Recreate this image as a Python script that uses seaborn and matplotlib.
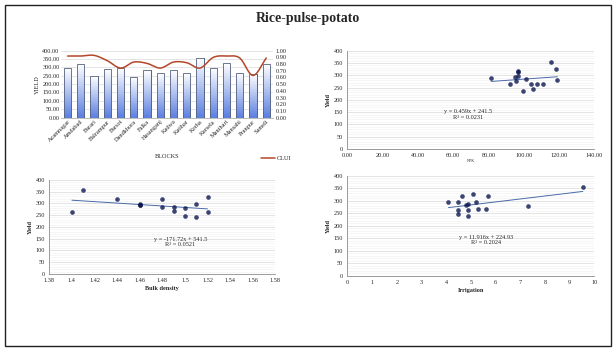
import numpy as np
import pandas as pd
import matplotlib
matplotlib.use("Agg")
import matplotlib.pyplot as plt
from matplotlib.patches import Rectangle
import seaborn as sns

# dados
blocks = ["Azamnagar", "Amdabad", "Barari", "Balrampur", "Barsoi", "Dandkhora",
          "Falka", "Hasanganj", "Kadwa", "Katihar", "Korha", "Kursela",
          "Manihari", "Mansahi", "Pranpur", "Sameli"]
block_yield = [297, 320, 250, 290, 295, 242, 285, 267, 285, 265, 355, 297,
               325, 267, 262, 320]
clui = [0.92, 0.92, 0.93, 0.85, 0.74, 0.83, 0.81, 0.74, 0.83, 0.82, 0.74,
        0.90, 0.92, 0.89, 0.63, 0.89]

x_tr = [81.5, 92.2, 94.7, 95.3, 96.4, 96.4, 96.6, 99.6, 101.0, 104.3, 104.9,
        107.7, 110.6, 115.5, 118.3, 119.0]
y_tr = [290, 264, 294, 277, 319, 313, 296, 236, 283, 264, 244, 263, 263,
        355, 324, 279]

bulk = [1.40, 1.41, 1.44, 1.46, 1.46, 1.46, 1.48, 1.48, 1.49, 1.49, 1.50,
        1.50, 1.51, 1.51, 1.52, 1.52]
y_bl = [264, 356, 319, 297, 293, 295, 319, 285, 284, 268, 281, 247, 298,
        240, 326, 265]

irrig = [4.09, 4.49, 4.49, 4.49, 4.62, 4.80, 4.89, 4.89, 4.89, 5.10, 5.20,
         5.30, 5.60, 5.71, 7.30, 9.53]
y_ir = [295, 297, 264, 249, 320, 285, 286, 264, 240, 327, 296, 267, 267,
        320, 280, 357]

sns.set_style("white")
plt.rcParams['font.family'] = ['Liberation Serif', 'DejaVu Serif']
plt.rcParams['font.size'] = 4.5

fig = plt.figure(figsize=(6.16, 3.52), dpi=100)
fig.patches.append(Rectangle((0.008, 0.017), 0.984, 0.968, transform=fig.transFigure,
                             fill=False, edgecolor='#222222', linewidth=1.0))
fig.text(0.5, 0.947, "Rice-pulse-potato", ha='center', va='center',
         fontsize=10, fontweight='bold')

grid_major = '#d9d9d9'
grid_minor = '#efefef'
dot = '#0b1650'
trend = '#4a6aa8'

# ---- grafico de barras + CLUI ----
ax1 = fig.add_axes([0.099, 0.666, 0.344, 0.190])
df_b = pd.DataFrame({'block': blocks, 'yield': block_yield, 'clui': clui})
sns.barplot(data=df_b, x='block', y='yield', ax=ax1, width=0.55, color='white',
            edgecolor='#5a6a8a', linewidth=0.6, zorder=2)
grad = np.linspace(0, 1, 100).reshape(-1, 1)
cmap = matplotlib.colors.LinearSegmentedColormap.from_list('g', ['#5b7fe0', '#ffffff'])
for p in ax1.patches:
    x0, y0 = p.get_x(), p.get_y()
    im = ax1.imshow(grad, extent=[x0, x0 + p.get_width(), y0, y0 + p.get_height()],
                    origin='lower', cmap=cmap, aspect='auto', zorder=2)
    im.set_clip_path(p)
    # contorno por cima do degradê
    ax1.add_patch(Rectangle((x0, y0), p.get_width(), p.get_height(), fill=False,
                            edgecolor='#55627f', linewidth=0.6, zorder=3))
ax1.set_xlim(-0.5, 15.5)
ax1.set_ylim(0, 400)
ax1.set_yticks(np.arange(0, 401, 50))
ax1.set_yticklabels([f"{v:.2f}" for v in np.arange(0, 401, 50)])
ax1.yaxis.grid(True, color=grid_major, linewidth=0.5, zorder=0)
ax1.set_axisbelow(True)
for s in ax1.spines.values():
    s.set_visible(False)
ax1.spines['bottom'].set_visible(True)
ax1.spines['bottom'].set_color('#bfbfbf')
ax1.tick_params(axis='both', length=0, pad=1)
ax1.set_xticks(range(len(blocks)))
ax1.set_xticklabels(blocks, rotation=45, ha='right', rotation_mode='anchor')
ax1.set_xlabel("BLOCKS", labelpad=8)
ax1.set_ylabel("YIELD", labelpad=2)

ax1b = ax1.twinx()
# linha suavizada (estilo Excel) a partir dos valores
xi = np.arange(len(clui))
yv = np.array(clui)
tang = np.gradient(yv)
xs, ys = [], []
for i in range(len(yv) - 1):
    t = np.linspace(0, 1, 20)
    h00 = 2*t**3 - 3*t**2 + 1
    h10 = t**3 - 2*t**2 + t
    h01 = -2*t**3 + 3*t**2
    h11 = t**3 - t**2
    xs.extend(xi[i] + t)
    ys.extend(h00*yv[i] + h10*tang[i] + h01*yv[i+1] + h11*tang[i+1])
sns.lineplot(x=xs, y=ys, ax=ax1b, color='#b5462a', linewidth=1.1,
             sort=False, legend=False)
ax1b.set_ylim(0, 1.0)
ax1b.set_yticks(np.arange(0, 1.01, 0.1))
ax1b.set_yticklabels([f"{v:.2f}" for v in np.arange(0, 1.01, 0.1)])
ax1b.tick_params(axis='y', length=0, pad=2)
for s in ax1b.spines.values():
    s.set_visible(False)
fig.legend(ax1b.get_lines()[:1], ['CLUI'], loc='center left',
           bbox_to_anchor=(0.415, 0.55), frameon=False,
           handlelength=2.2, handletextpad=0.2, fontsize=4.5)


def style_scatter(ax, ymax=400):
    ax.set_ylim(0, ymax)
    ax.set_yticks(np.arange(0, ymax + 1, 50))
    ax.set_yticks(np.arange(0, ymax + 1, 10), minor=True)
    ax.yaxis.grid(True, which='minor', color=grid_minor, linewidth=0.4)
    ax.yaxis.grid(True, which='major', color=grid_major, linewidth=0.5)
    ax.set_axisbelow(True)
    for s in ['top', 'right']:
        ax.spines[s].set_visible(False)
    for s in ['left', 'bottom']:
        ax.spines[s].set_color('#8c8c8c')
        ax.spines[s].set_linewidth(0.6)
    ax.tick_params(axis='both', which='major', length=2, width=0.5, pad=1,
                   color='#8c8c8c')
    ax.tick_params(axis='y', which='minor', length=0)
    ax.set_ylabel("Yield", fontweight='bold', labelpad=2)


sc_kw = dict(s=11, color=dot, linewidths=0, zorder=3)
ln_kw = dict(color=trend, linewidth=0.7)

# ---- canto superior direito ----
ax2 = fig.add_axes([0.564, 0.577, 0.401, 0.279])
sns.regplot(x=x_tr, y=y_tr, ax=ax2, ci=None, scatter_kws=sc_kw, line_kws=ln_kw)
style_scatter(ax2)
ax2.set_xlim(0, 140)
ax2.set_xticks(np.arange(0, 141, 20))
ax2.set_xticklabels([f"{v:.2f}" for v in np.arange(0, 141, 20)])
ax2.set_xlabel("NPK", fontsize=3, labelpad=1)
ax2.text(0.49, 0.35, "y = 0.459x + 241.5\nR² = 0.0231", transform=ax2.transAxes,
         ha='center', va='center', fontsize=4.5, linespacing=1.1)

# ---- inferior esquerdo ----
ax3 = fig.add_axes([0.080, 0.222, 0.367, 0.267])
sns.regplot(x=bulk, y=y_bl, ax=ax3, ci=None, scatter_kws=sc_kw, line_kws=ln_kw)
style_scatter(ax3)
ax3.set_xlim(1.38, 1.58)
bt = np.round(np.arange(1.38, 1.581, 0.02), 2)
ax3.set_xticks(bt)
ax3.set_xticklabels([f"{v:g}" for v in bt])
ax3.set_xlabel("Bulk density", fontweight='bold', labelpad=2)
ax3.text(0.58, 0.34, "y = -171.72x + 541.5\nR² = 0.0521", transform=ax3.transAxes,
         ha='center', va='center', fontsize=4.5, linespacing=1.1)

# ---- inferior direito ----
ax4 = fig.add_axes([0.564, 0.216, 0.401, 0.284])
sns.regplot(x=irrig, y=y_ir, ax=ax4, ci=None, scatter_kws=sc_kw, line_kws=ln_kw)
style_scatter(ax4)
ax4.set_xlim(0, 10)
ax4.set_xticks(range(0, 11))
ax4.set_xlabel("Irrigation", fontweight='bold', labelpad=2)
ax4.text(0.56, 0.36, "y = 11.916x + 224.93\nR² = 0.2024", transform=ax4.transAxes,
         ha='center', va='center', fontsize=4.5, linespacing=1.1)

fig.savefig("out.png", dpi=100)
